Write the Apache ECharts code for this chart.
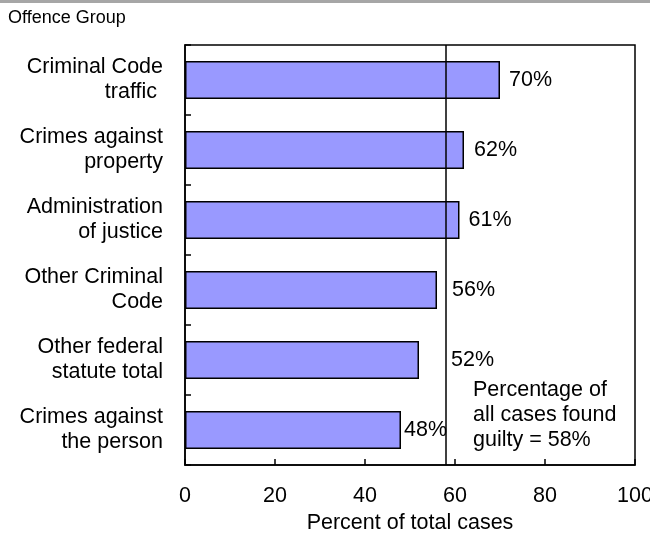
<!DOCTYPE html>
<html>
<head>
<meta charset="utf-8">
<script src="https://cdn.jsdelivr.net/npm/echarts@6/dist/echarts.min.js"></script>
<style>
  html, body { margin: 0; padding: 0; background: #fff; overflow: hidden; }
  #chart { width: 650px; height: 540px; }
</style>
</head>
<body>
<div id="chart"></div>
<script>
// Offence groups, top to bottom
const categories = [
  'Criminal Code\ntraffic ',
  'Crimes against\nproperty',
  'Administration\nof justice',
  'Other Criminal\nCode',
  'Other federal\nstatute total',
  'Crimes against\nthe person'
];
// Share of cases in each group that ended in a guilty finding (%)
const guiltyPct = [70, 62, 61, 56, 52, 48];
// Overall share across all cases (%)
const overallPct = 58;
const xTicks = [0, 20, 40, 60, 80, 100];

const FONT = '"Liberation Sans", Arial, sans-serif';
const FS = 21.5;

// Extra gap for value labels so they clear the overall-percentage line
const labelGaps = [9, 10, 9, 15, 32, 3];

const chart = echarts.init(document.getElementById('chart'), null, { renderer: 'canvas' });

chart.setOption({
  animation: false,
  backgroundColor: '#fff',
  textStyle: { fontFamily: FONT },
  graphic: [
    { type: 'rect', left: 0, top: 0, shape: { width: 650, height: 3 }, style: { fill: '#a6a6a6' } },
    { type: 'text', left: 8, top: 9, style: { text: 'Offence Group', font: '18px ' + FONT, fill: '#000' } },
    {
      type: 'text', left: 473, top: 378,
      style: {
        text: 'Percentage of\nall cases found\nguilty = ' + overallPct + '%',
        font: FS + 'px ' + FONT, lineHeight: 25, fill: '#000'
      }
    }
  ],
  grid: {
    left: 185, right: 15, top: 45, bottom: 75,
    containLabel: false,
    outerBoundsMode: 'none',
    show: true, borderColor: '#000', borderWidth: 1.5, backgroundColor: 'transparent'
  },
  xAxis: {
    type: 'value',
    min: xTicks[0], max: xTicks[xTicks.length - 1], interval: 20,
    axisLine: { show: true, lineStyle: { color: '#000', width: 1.5 } },
    axisTick: { show: true, inside: true, length: 6, lineStyle: { color: '#000', width: 1.5 } },
    splitLine: { show: false },
    axisLabel: { color: '#000', fontSize: FS, fontFamily: FONT, margin: 20, hideOverlap: false },
    name: 'Percent of total cases',
    nameLocation: 'middle', nameGap: 46,
    nameTextStyle: { color: '#000', fontSize: FS, fontFamily: FONT }
  },
  yAxis: {
    type: 'category',
    data: categories,
    inverse: true,
    axisLine: { show: true, lineStyle: { color: '#000', width: 1.5 } },
    axisTick: { show: true, inside: true, length: 6, lineStyle: { color: '#000', width: 1.5 } },
    axisLabel: { color: '#000', fontSize: FS, fontFamily: FONT, margin: 22, lineHeight: 25, align: 'right' }
  },
  series: [{
    type: 'bar',
    data: guiltyPct.map((v, i) => ({ value: v, label: { distance: labelGaps[i] } })),
    barWidth: 38,
    itemStyle: { color: '#9999ff', borderColor: '#000', borderWidth: 1.5 },
    label: {
      show: true, position: 'right', formatter: '{c}%',
      color: '#000', fontSize: FS, fontFamily: FONT
    },
    markLine: {
      silent: true,
      symbol: 'none',
      label: { show: false },
      lineStyle: { color: '#000', width: 1.5, type: 'solid' },
      data: [{ xAxis: overallPct }]
    }
  }]
});
</script>
</body>
</html>
